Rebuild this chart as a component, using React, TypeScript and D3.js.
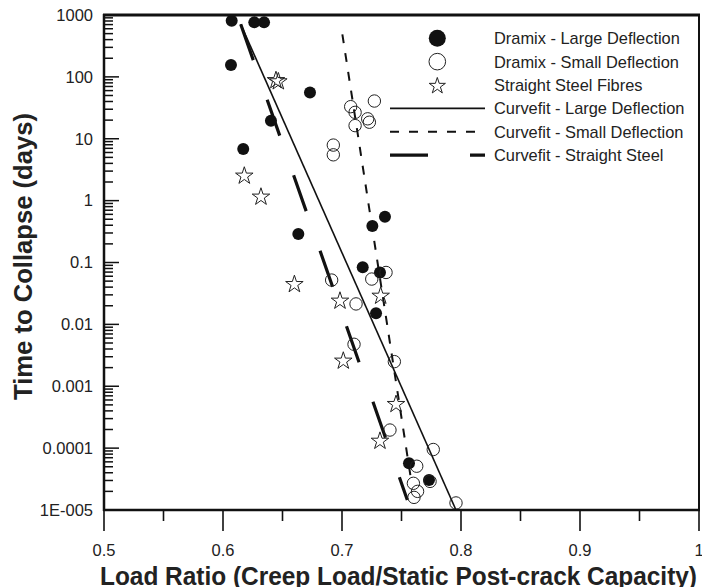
import React from "react";
import * as d3 from "d3";

// Data (load ratio, time to collapse in days)
const largeX = [0.6073, 0.6263, 0.6345, 0.6067, 0.6731, 0.6403, 0.617, 0.6633, 0.7361, 0.7255, 0.7174, 0.7319, 0.7286, 0.7563, 0.7731];
const largeY = [809, 760, 760, 156, 56, 19.6, 6.8, 0.29, 0.55, 0.39, 0.0836, 0.069, 0.0151, 5.7e-5, 3.05e-5];

const smallX = [0.6927, 0.6927, 0.7073, 0.711, 0.711, 0.7216, 0.723, 0.7272, 0.6913, 0.725, 0.737, 0.7118, 0.7101, 0.744, 0.7403, 0.7767, 0.7628, 0.774, 0.76, 0.7635, 0.7605, 0.7958];
const smallY = [7.9, 5.5, 33, 26.7, 16.3, 21, 18.5, 40.7, 0.052, 0.054, 0.069, 0.0214, 0.00477, 0.0025, 0.000196, 9.5e-5, 5.1e-5, 2.9e-5, 2.7e-5, 2.0e-5, 1.6e-5, 1.3e-5];

const steelX = [0.6445, 0.6465, 0.6179, 0.6319, 0.66, 0.6983, 0.7325, 0.7011, 0.7454, 0.7319];
const steelY = [91, 87, 2.6, 1.19, 0.046, 0.0248, 0.0298, 0.00266, 0.00053, 0.000135];

const fitLargeX = [0.6149, 0.7958];
const fitLargeY = [708, 1e-5];
const fitSmallX = [0.7003, 0.7576];
const fitSmallY = [488, 3.5e-5];
const fitSteelX = [0.6149, 0.7549];
const fitSteelY = [708, 1.45e-5];

const xTicks = [0.5, 0.6, 0.7, 0.8, 0.9, 1.0];
const xTickLabels = ["0.5", "0.6", "0.7", "0.8", "0.9", "1"];
const xMinorTicks = [0.55, 0.65, 0.75, 0.85, 0.95];
const yTicks = [1e-5, 1e-4, 1e-3, 1e-2, 0.1, 1, 10, 100, 1000];
const yTickLabels = ["1E-005", "0.0001", "0.001", "0.01", "0.1", "1", "10", "100", "1000"];

const legendLabels = [
  "Dramix - Large Deflection",
  "Dramix - Small Deflection",
  "Straight Steel Fibres",
  "Curvefit - Large Deflection",
  "Curvefit - Small Deflection",
  "Curvefit - Straight Steel",
];

const W = 702;
const H = 587;
const FONT = "'Liberation Sans', Arial, sans-serif";

export default function App() {
  const x = d3.scaleLinear().domain([0.5, 1.0]).range([104, 699]);
  const y = d3.scaleLog().domain([1e-5, 1000]).range([510, 15]);

  const minorY: number[] = [];
  for (let e = -5; e < 3; e++) {
    for (let k = 2; k <= 9; k++) minorY.push(k * Math.pow(10, e));
  }

  const line = d3
    .line<[number, number]>()
    .x((d) => x(d[0]))
    .y((d) => y(d[1]));

  const starPlot = d3.symbol().type(d3.symbolStar).size(95)()!;
  const starLeg = d3.symbol().type(d3.symbolStar).size(82)()!;

  const legY0 = 38.3;
  const legDy = 23.35;

  return (
    <svg width={W} height={H} style={{ position: "absolute", left: 0, top: 0 }} fontFamily={FONT}>
      <rect width={W} height={H} fill="#fff" />
      {/* fit lines */}
      <path
        d={line(fitLargeX.map((v, i) => [v, fitLargeY[i]]))!}
        fill="none"
        stroke="#111"
        strokeWidth={1.6}
      />
      <path
        d={line(fitSmallX.map((v, i) => [v, fitSmallY[i]]))!}
        fill="none"
        stroke="#111"
        strokeWidth={2}
        strokeDasharray="9,10"
      />
      <path
        d={line(fitSteelX.map((v, i) => [v, fitSteelY[i]]))!}
        fill="none"
        stroke="#111"
        strokeWidth={3.2}
        strokeDasharray="38,42"
      />
      {/* markers */}
      {largeX.map((v, i) => (
        <circle key={"l" + i} cx={x(v)} cy={y(largeY[i])} r={6} fill="#111" />
      ))}
      {smallX.map((v, i) => (
        <circle key={"s" + i} cx={x(v)} cy={y(smallY[i])} r={6.2} fill="none" stroke="#222" strokeWidth={1} />
      ))}
      {steelX.map((v, i) => (
        <path
          key={"t" + i}
          d={starPlot}
          transform={`translate(${x(v)},${y(steelY[i]) + 1})`}
          fill="none"
          stroke="#222"
          strokeWidth={1}
        />
      ))}
      {/* y axis ticks */}
      {minorY.map((v, i) => (
        <line key={"ym" + i} x1={104} x2={113} y1={y(v)} y2={y(v)} stroke="#111" strokeWidth={1.5} />
      ))}
      {yTicks.map((v, i) => (
        <g key={"y" + i}>
          <line x1={104} x2={119} y1={y(v)} y2={y(v)} stroke="#111" strokeWidth={1.5} />
          <text x={93} y={y(v)} dy="0.35em" textAnchor="end" fontSize={16.5} fill="#222">
            {yTickLabels[i]}
          </text>
        </g>
      ))}
      {/* x axis ticks */}
      {xMinorTicks.map((v, i) => (
        <line key={"xm" + i} x1={x(v)} x2={x(v)} y1={510} y2={521} stroke="#111" strokeWidth={1.6} />
      ))}
      {xTicks.map((v, i) => (
        <g key={"x" + i}>
          <line x1={x(v)} x2={x(v)} y1={510} y2={531} stroke="#111" strokeWidth={1.6} />
          <text x={x(v)} y={556} textAnchor="middle" fontSize={16.5} fill="#222">
            {xTickLabels[i]}
          </text>
        </g>
      ))}
      {/* frame */}
      <line x1={103} x2={700} y1={15} y2={15} stroke="#111" strokeWidth={3} />
      <line x1={103} x2={700} y1={510} y2={510} stroke="#111" strokeWidth={2.5} />
      <line x1={104} x2={104} y1={14} y2={511} stroke="#111" strokeWidth={2.5} />
      <line x1={699} x2={699} y1={14} y2={511} stroke="#111" strokeWidth={2} />
      {/* legend */}
      <circle cx={437.3} cy={legY0} r={8.5} fill="#111" />
      <circle cx={437.3} cy={legY0 + legDy} r={8.3} fill="none" stroke="#222" strokeWidth={1} />
      <path d={starLeg} transform={`translate(437.3,${legY0 + 2 * legDy + 1})`} fill="none" stroke="#222" strokeWidth={1} />
      <line x1={390} x2={485} y1={legY0 + 3 * legDy} y2={legY0 + 3 * legDy} stroke="#111" strokeWidth={1.6} />
      <line x1={390} x2={485} y1={legY0 + 4 * legDy} y2={legY0 + 4 * legDy} stroke="#111" strokeWidth={2} strokeDasharray="9,10" />
      <line x1={390} x2={485} y1={legY0 + 5 * legDy} y2={legY0 + 5 * legDy} stroke="#111" strokeWidth={3.2} strokeDasharray="38,42" />
      {legendLabels.map((t, i) => (
        <text key={"lg" + i} x={494} y={legY0 + i * legDy} dy="0.36em" fontSize={16.4} fill="#222">
          {t}
        </text>
      ))}
      {/* axis titles */}
      <text
        x={398.5}
        y={585}
        textAnchor="middle"
        fontSize={26}
        fontWeight="bold"
        fill="#222"
        textLength={597}
        lengthAdjust="spacingAndGlyphs"
      >
        Load Ratio (Creep Load/Static Post-crack Capacity)
      </text>
      <text
        transform="translate(32,256.5) rotate(-90)"
        textAnchor="middle"
        fontSize={26}
        fontWeight="bold"
        fill="#222"
        textLength={287}
        lengthAdjust="spacingAndGlyphs"
      >
        Time to Collapse (days)
      </text>
    </svg>
  );
}
